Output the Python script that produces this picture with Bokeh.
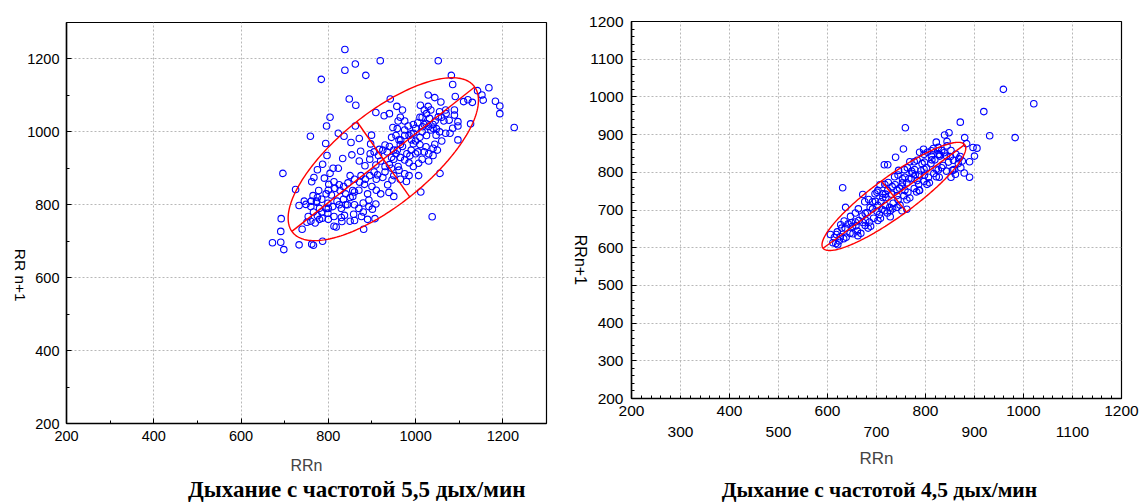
import math
import numpy as np
from jinja2 import Template
from bokeh.plotting import figure
from bokeh.models import LinearAxis, SingleIntervalTicker, FixedTicker, Range1d
from bokeh.embed import file_html
from bokeh.resources import INLINE

SANS = "Liberation Sans"
SERIF = "Liberation Serif"

# ---------------- data: breathing 5.5 /min (left) ----------------
left_rrn = [
    838, 919, 1052, 862, 838, 886, 784, 1082, 1085, 1168,
    1142, 1152, 1155, 1183, 1193, 1193, 1226, 1110, 1120, 1130,
    1091, 1126, 1097, 1038, 1056, 1012, 848, 863, 942, 957,
    970, 909, 928, 940, 804, 796, 759, 794, 823, 836,
    862, 871, 852, 899, 897, 854, 797, 833, 874, 896,
    871, 884, 787, 775, 811, 823, 804, 767, 762, 791,
    813, 801, 778, 725, 807, 827, 856, 872, 883, 761,
    773, 749, 733, 760, 773, 754, 766, 786, 799, 813,
    837, 858, 860, 876, 751, 740, 813, 818, 831, 881,
    907, 799, 844, 856, 893, 893, 901, 909, 696, 692,
    691, 672, 691, 698, 733, 762, 787, 766, 939, 950,
    946, 979, 936, 913, 962, 930, 909, 950, 975, 987,
    1007, 1007, 1024, 1044, 1040, 995, 966, 995, 1016, 1024,
    1032, 1029, 1029, 1011, 1044, 1058, 1069, 1052, 1077, 1097,
    1097, 1089, 1089, 1048, 1047, 1069, 1079, 958, 948, 983,
    962, 991, 930, 958, 917,
    1000, 1005, 1015, 1025, 1035, 1000, 1010, 1020, 1030, 1005,
    990, 980, 970, 985, 995, 1015, 1025, 1040, 1045, 1060,
    1065, 1070, 1055, 1035, 1020, 1010, 975, 965, 960, 975,
    955, 945, 940, 935, 955, 965, 985, 995, 1015, 1030,
    1040, 1050, 1060, 1085, 1055, 1040, 1030, 1020, 1010, 1000,
    990, 975, 965, 950, 945, 925, 915, 905, 895, 920,
    940, 930, 950, 965, 975, 985, 960, 945, 925, 910,
    905, 895, 885, 875, 860, 850, 845, 835, 825, 815,
    800, 795, 785, 775, 765, 745, 780, 795, 810, 825,
    835, 840, 830, 820, 860, 870, 880, 890, 900, 910,
    920, 870, 860, 850, 840, 880, 890, 850, 830, 800,
    780, 770, 760, 775, 785, 800,
]
left_rrn1 = [
    1226, 1195, 1195, 1186, 1169, 1155, 1144, 1155, 1130, 1121,
    1113, 1101, 1087, 1084, 1071, 1050, 1012, 1083, 1088, 1081,
    1097, 1022, 978, 767, 886, 835, 1090, 1073, 1090, 1070,
    1060, 1053, 1044, 1050, 1040, 1016, 988, 968, 996, 988,
    1016, 982, 971, 991, 967, 937, 935, 927, 947, 940,
    920, 907, 911, 896, 900, 900, 886, 875, 863, 873,
    863, 856, 839, 842, 827, 839, 839, 862, 856, 810,
    810, 801, 798, 795, 807, 768, 780, 763, 777, 768,
    771, 774, 757, 768, 752, 733, 741, 739, 754, 733,
    762, 804, 800, 823, 813, 795, 788, 802, 886, 762,
    727, 696, 697, 677, 690, 692, 700, 689, 834, 823,
    868, 864, 855, 882, 895, 905, 909, 925, 923, 934,
    914, 880, 959, 966, 955, 967, 978, 996, 1014, 1023,
    1037, 1070, 1101, 1073, 1094, 1082, 1060, 1041, 1032, 1028,
    1016, 1046, 1060, 1009, 991, 996, 996, 1009, 1012, 1016,
    978, 978, 964, 950, 952,
    1010, 1025, 1000, 990, 1005, 975, 965, 945, 940, 945,
    950, 940, 960, 990, 1020, 1040, 1050, 1020, 1030, 1040,
    1030, 1050, 1055, 1060, 1060, 1040, 1030, 1040, 1030, 1005,
    990, 985, 960, 945, 940, 930, 915, 905, 925, 920,
    935, 950, 975, 1010, 1000, 1010, 1015, 1020, 985, 940,
    995, 990, 965, 950, 930, 950, 935, 945, 925, 920,
    910, 890, 880, 870, 885, 880, 905, 900, 875, 870,
    890, 880, 870, 880, 870, 880, 860, 850, 855, 845,
    840, 830, 815, 820, 825, 810, 790, 790, 795, 800,
    815, 800, 790, 810, 800, 790, 805, 830, 850, 840,
    830, 840, 835, 820, 830, 780, 760, 755, 765, 760,
    760, 750, 755, 770, 780, 790,
]
# ellipse: centre, half major-axis vector, half minor-axis vector
left_ell_center = [926, 925]
left_ell_major = [209.5, 198]
left_ell_minor = [-60.5, 103.5]

# ---------------- data: breathing 4.5 /min (right) ----------------
right_rrn = [
    959, 1021, 919, 931, 983, 871, 848, 839, 759, 755,
    739, 716, 723, 631, 637, 672, 880, 884, 897, 905,
    900, 890, 879, 890, 871, 875, 861, 852, 844, 822,
    844, 796, 788, 829, 606, 618, 621, 624,
    620, 626, 633, 614, 629, 642, 646, 651, 657, 661,
    638, 652, 664, 671, 677, 681, 686, 692, 694, 703,
    706, 709, 717, 719, 727, 731, 734, 742, 744, 752,
    756, 762, 764, 771, 777, 779, 786, 791, 797, 802,
    806, 811, 817, 819, 826, 829, 836, 838, 847, 852,
    657, 663, 676, 684, 697, 703, 717, 724, 737, 744,
    757, 763, 777, 783, 797, 804, 816, 662, 668, 683,
    688, 703, 708, 722, 728, 742, 748, 762, 768, 782,
    788, 803, 808, 822, 828, 843, 692, 698, 713, 718,
    732, 738, 753, 758, 772, 778, 793, 798, 812, 658,
    672, 678, 701, 718, 742, 758, 783, 798, 822, 833,
    634, 647, 701, 711, 733, 752, 707, 728, 762, 788,
    797, 787, 813, 826, 843, 857, 858, 867, 773, 766,
    753, 747, 723, 713, 687, 677, 649, 636, 627, 611, 617,
    745, 768, 812, 826, 833, 851, 862, 868, 872, 855,
]
right_rrn1 = [
    1020, 982, 961, 897, 892, 933, 905, 899, 918, 862,
    840, 820, 820, 759, 707, 741, 892, 876, 866, 864,
    843, 828, 798, 787, 842, 830, 795, 787, 882, 880,
    870, 861, 853, 847, 635, 635, 608, 618,
    642, 629, 624, 627, 652, 663, 638, 657, 668, 644,
    628, 637, 672, 684, 659, 693, 668, 703, 678, 712,
    688, 722, 698, 733, 707, 742, 718, 753, 727, 763,
    738, 772, 747, 783, 757, 793, 768, 804, 776, 812,
    787, 823, 797, 833, 806, 843, 818, 852, 827, 858,
    692, 703, 722, 728, 743, 752, 768, 773, 788, 793,
    807, 812, 828, 832, 848, 853, 863, 632, 638, 652,
    657, 672, 678, 692, 698, 707, 713, 727, 732, 748,
    752, 768, 772, 788, 787, 803, 722, 723, 743, 742,
    762, 767, 783, 787, 803, 807, 823, 827, 843, 658,
    667, 673, 697, 712, 738, 752, 778, 792, 808, 812,
    671, 683, 747, 702, 703, 698, 767, 682, 702, 793,
    808, 752, 833, 847, 843, 832, 807, 823, 797, 783,
    772, 758, 752, 733, 707, 691, 666, 652, 661, 613, 611,
    805, 828, 857, 866, 858, 842, 848, 836, 812, 805,
]
right_ell_center = [735.5, 736]
right_ell_major = [144.5, 137.5]
right_ell_minor = [-25.5, 41]

left_ticks = [200, 400, 600, 800, 1000, 1200]
left_minor = [300, 500, 700, 900, 1100]
right_xticks_top = [200, 400, 600, 800, 1000, 1200]
right_xticks_low = [300, 500, 700, 900, 1100]

left_caption = "Дыхание с частотой 5,5 дых/мин"
right_caption = "Дыхание с частотой 4,5 дых/мин"
left_ylabel = "RR n+1"
right_ylabel = "RRn+1"
xlabel = "RRn"


def style_axis(ax, ticker, size, standoff=7):
    ax.ticker = ticker
    ax.axis_line_color = "black"
    ax.axis_line_width = 1.5
    ax.major_tick_in = 5
    ax.major_tick_out = 0
    ax.minor_tick_in = 3
    ax.minor_tick_out = 0
    ax.major_tick_line_color = "black"
    ax.minor_tick_line_color = "black"
    ax.major_label_text_font = SANS
    ax.major_label_text_font_size = f"{size}px"
    ax.major_label_text_color = "black"
    ax.major_label_standoff = standoff


def text_axis(pos, text, font, size, bold, standoff, orientation=None):
    """An axis without line/ticks whose single tick label is a free text."""
    ax = LinearAxis(ticker=FixedTicker(ticks=[pos]), major_label_overrides={pos: text})
    ax.axis_line_color = None
    ax.major_tick_line_color = None
    ax.minor_tick_line_color = None
    ax.major_tick_in = 0
    ax.major_tick_out = 0
    ax.minor_tick_in = 0
    ax.minor_tick_out = 0
    ax.major_label_text_font = font
    ax.major_label_text_font_size = f"{size}px"
    ax.major_label_text_font_style = "bold" if bold else "normal"
    ax.major_label_text_color = "black"
    ax.major_label_standoff = standoff
    if orientation is not None:
        ax.major_label_orientation = orientation
    return ax


def draw_ellipse(p, center, major, minor):
    t = np.linspace(0, 2 * math.pi, 240)
    ex = center[0] + major[0] * np.cos(t) + minor[0] * np.sin(t)
    ey = center[1] + major[1] * np.cos(t) + minor[1] * np.sin(t)
    p.line(ex, ey, line_color="#ff0000", line_width=1.4)
    p.line([center[0] - major[0], center[0] + major[0]],
           [center[1] - major[1], center[1] + major[1]], line_color="#ff0000", line_width=1.4)
    p.line([center[0] - minor[0], center[0] + minor[0]],
           [center[1] - minor[1], center[1] + minor[1]], line_color="#ff0000", line_width=1.4)


def base_fig(width, xr, yr, bl, br, bt, bb):
    p = figure(width=width, height=504, x_range=Range1d(*xr), y_range=Range1d(*yr),
               output_backend="svg", toolbar_location=None,
               min_border_left=bl, min_border_right=br, min_border_top=bt, min_border_bottom=bb)
    p.outline_line_color = "black"
    p.outline_line_width = 1.2
    p.background_fill_color = "white"
    p.border_fill_color = "white"
    for g in (p.xgrid[0], p.ygrid[0]):
        g.grid_line_color = "#b8b8b8"
        g.grid_line_dash = "2 2"
        g.grid_line_width = 1
    return p


# ---------------- left figure ----------------
p1 = base_fig(560, (200, 1300), (200, 1300), 65, 14, 22, 80)
xa1 = p1.xaxis[0]
ya1 = p1.yaxis[0]
style_axis(xa1, FixedTicker(ticks=left_ticks, minor_ticks=left_minor), 14.5)
style_axis(ya1, FixedTicker(ticks=left_ticks, minor_ticks=left_minor), 14.5)
p1.xgrid[0].ticker = FixedTicker(ticks=left_ticks)
p1.ygrid[0].ticker = FixedTicker(ticks=left_ticks)
xa1.axis_label = xlabel
xa1.axis_label_text_font = SANS
xa1.axis_label_text_font_size = "16px"
xa1.axis_label_text_font_style = "normal"
xa1.axis_label_standoff = 13
p1.add_layout(text_axis(534, left_ylabel, SANS, 15.5, False, 4, -math.pi / 2), "left")
p1.add_layout(text_axis(865, left_caption, SERIF, 23, True, 0), "below")
p1.scatter(left_rrn, left_rrn1, marker="circle", size=6.5, fill_color=None,
           line_color="#0000ff", line_width=1.1)
draw_ellipse(p1, left_ell_center, left_ell_major, left_ell_minor)

# ---------------- right figure ----------------
p2 = base_fig(583, (200, 1200), (200, 1200), 70, 22, 21, 105)
xa2 = p2.xaxis[0]
ya2 = p2.yaxis[0]
style_axis(xa2, FixedTicker(ticks=right_xticks_top,
                            minor_ticks=[v for v in range(220, 1200, 20) if v % 200]), 15.5)
style_axis(ya2, SingleIntervalTicker(interval=100, num_minor_ticks=5), 15.5, 8)
p2.xgrid[0].ticker = SingleIntervalTicker(interval=100)
p2.ygrid[0].ticker = SingleIntervalTicker(interval=100)
ax2 = LinearAxis(ticker=FixedTicker(ticks=right_xticks_low))
ax2.axis_line_color = None
ax2.major_tick_line_color = None
ax2.minor_tick_line_color = None
ax2.major_tick_in = 0
ax2.major_tick_out = 0
ax2.minor_tick_in = 0
ax2.minor_tick_out = 0
ax2.major_label_text_font = SANS
ax2.major_label_text_font_size = "15.5px"
ax2.major_label_text_color = "black"
ax2.major_label_standoff = 8
ax2.axis_label = xlabel
ax2.axis_label_text_font = SANS
ax2.axis_label_text_font_size = "17px"
ax2.axis_label_text_font_style = "normal"
ax2.axis_label_standoff = 9
p2.add_layout(ax2, "below")
p2.add_layout(text_axis(501, right_ylabel, SANS, 16, False, 6, -math.pi / 2), "left")
p2.add_layout(text_axis(706, right_caption, SERIF, 21.5, True, 7), "below")
p2.scatter(right_rrn, right_rrn1, marker="circle", size=6.5, fill_color=None,
           line_color="#0000ff", line_width=1.1)
draw_ellipse(p2, right_ell_center, right_ell_major, right_ell_minor)

# two independent roots placed side by side (no shared frame alignment)
side_by_side = Template("""{% extends base %}
{% block postamble %}<style>html, body { overflow: hidden; } body { display: flex !important; flex-direction: row; align-items: flex-start; }</style>{% endblock %}
""")

open("out.html", "w").write(file_html([p1, p2], INLINE, template=side_by_side))
